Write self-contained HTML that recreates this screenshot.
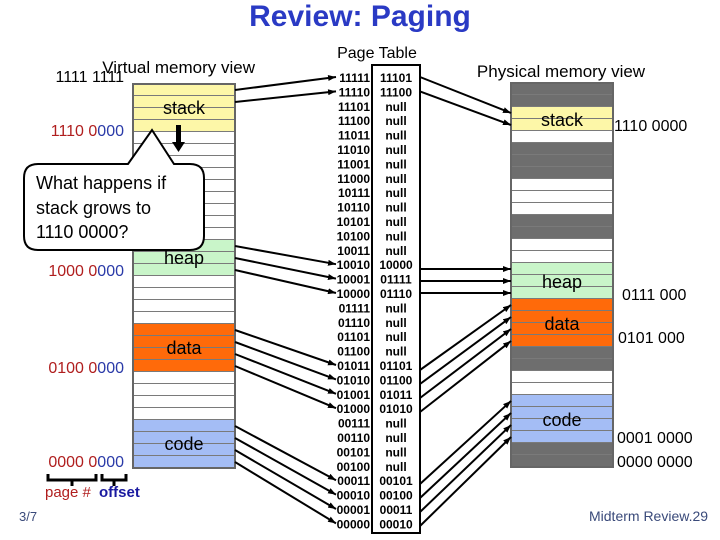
<!DOCTYPE html>
<html><head><meta charset="utf-8"><style>
html,body{margin:0;padding:0;background:#fff;}
svg{display:block;}
text{font-family:"Liberation Sans",Arial,sans-serif;}
</style></head><body>
<svg width="720" height="540" viewBox="0 0 720 540" xmlns="http://www.w3.org/2000/svg">
<defs>
<marker id="ah" markerWidth="8" markerHeight="6" refX="8" refY="3" orient="auto" markerUnits="userSpaceOnUse"><path d="M0,0 L8,3 L0,6 z" fill="#000"/></marker>
<pattern id="rows" x="0" y="84" width="10" height="12" patternUnits="userSpaceOnUse"><rect x="0" y="11" width="10" height="2" fill="#7a7a7a"/></pattern>
<pattern id="rows2" x="0" y="83" width="10" height="12" patternUnits="userSpaceOnUse"><rect x="0" y="11" width="10" height="2" fill="#7a7a7a"/></pattern>
</defs>

<text x="360" y="26" text-anchor="middle" font-size="30" font-weight="bold" fill="#2a3ac4">Review: Paging</text>

<!-- Virtual memory -->
<text x="255" y="73" text-anchor="end" font-size="17" fill="#000">Virtual memory view</text>
<text x="124" y="82" text-anchor="end" font-size="16" fill="#000">1111 1111</text>
<rect x="133" y="84" width="102" height="384" fill="#fff"/>
<rect x="133" y="84" width="102" height="48" fill="#fdf7a8"/>
<rect x="133" y="240" width="102" height="36" fill="#c9f5c9"/>
<rect x="133" y="324" width="102" height="48" fill="#ff6a0a"/>
<rect x="133" y="420" width="102" height="48" fill="#a4bdf5"/>
<rect x="133" y="84" width="102" height="384" fill="url(#rows)"/>
<rect x="133" y="84" width="102" height="384" fill="none" stroke="#666" stroke-width="2"/>
<text x="184" y="114" text-anchor="middle" font-size="18">stack</text>
<text x="184" y="264" text-anchor="middle" font-size="18">heap</text>
<text x="184" y="354" text-anchor="middle" font-size="18">data</text>
<text x="184" y="450" text-anchor="middle" font-size="18">code</text>
<rect x="176" y="125" width="5" height="18" fill="#000"/>
<path d="M172,142 L185,142 L178.5,152 z" fill="#000"/>

<g font-size="16">
<text x="124" y="136" text-anchor="end"><tspan fill="#b01e1e">1110 0</tspan><tspan fill="#2a3aa8">000</tspan></text>
<text x="124" y="276" text-anchor="end"><tspan fill="#b01e1e">1000 0</tspan><tspan fill="#2a3aa8">000</tspan></text>
<text x="124" y="373" text-anchor="end"><tspan fill="#b01e1e">0100 0</tspan><tspan fill="#2a3aa8">000</tspan></text>
<text x="124" y="467" text-anchor="end"><tspan fill="#b01e1e">0000 0</tspan><tspan fill="#2a3aa8">000</tspan></text>
</g>
<path d="M48,474 L48,480 L96,480 L96,474 M72,480 L72,486" fill="none" stroke="#000" stroke-width="3"/>
<path d="M102,474 L102,480 L126,480 L126,474 M114,480 L114,486" fill="none" stroke="#000" stroke-width="3"/>
<text x="45" y="497" font-size="15" fill="#b01e1e">page #</text>
<text x="99" y="497" font-size="15" font-weight="bold" fill="#1a1aa0">offset</text>
<text x="19" y="521" font-size="13" fill="#3a4a7a">3/7</text>

<!-- callout -->
<path d="M38,164 L128,164 L152,130 L174,164 L190,164 Q204,164 204,178 L204,236 Q204,250 190,250 L38,250 Q24,250 24,236 L24,178 Q24,164 38,164 z" fill="#fff" stroke="#000" stroke-width="2"/>
<text x="36" y="189" font-size="18">What happens if</text>
<text x="36" y="214" font-size="18">stack grows to</text>
<text x="36" y="238" font-size="18">1110 0000?</text>

<!-- Page table -->
<text x="377" y="58" text-anchor="middle" font-size="16">Page Table</text>
<rect x="372" y="65" width="48" height="468" fill="#fff" stroke="#000" stroke-width="2"/>
<g font-size="12" font-weight="bold" fill="#000">
<g text-anchor="end">
<text x="370" y="82">11111</text><text x="370" y="96.4">11110</text><text x="370" y="110.8">11101</text><text x="370" y="125.2">11100</text>
<text x="370" y="139.6">11011</text><text x="370" y="154">11010</text><text x="370" y="168.4">11001</text><text x="370" y="182.8">11000</text>
<text x="370" y="197.2">10111</text><text x="370" y="211.6">10110</text><text x="370" y="226">10101</text><text x="370" y="240.4">10100</text>
<text x="370" y="254.8">10011</text><text x="370" y="269.2">10010</text><text x="370" y="283.6">10001</text><text x="370" y="298">10000</text>
<text x="370" y="312.4">01111</text><text x="370" y="326.8">01110</text><text x="370" y="341.2">01101</text><text x="370" y="355.6">01100</text>
<text x="370" y="370">01011</text><text x="370" y="384.4">01010</text><text x="370" y="398.8">01001</text><text x="370" y="413.2">01000</text>
<text x="370" y="427.6">00111</text><text x="370" y="442">00110</text><text x="370" y="456.4">00101</text><text x="370" y="470.8">00100</text>
<text x="370" y="485.2">00011</text><text x="370" y="499.6">00010</text><text x="370" y="514">00001</text><text x="370" y="528.4">00000</text>
</g>
<g text-anchor="middle">
<text x="396" y="82">11101</text><text x="396" y="96.4">11100</text><text x="396" y="110.8">null</text><text x="396" y="125.2">null</text>
<text x="396" y="139.6">null</text><text x="396" y="154">null</text><text x="396" y="168.4">null</text><text x="396" y="182.8">null</text>
<text x="396" y="197.2">null</text><text x="396" y="211.6">null</text><text x="396" y="226">null</text><text x="396" y="240.4">null</text>
<text x="396" y="254.8">null</text><text x="396" y="269.2">10000</text><text x="396" y="283.6">01111</text><text x="396" y="298">01110</text>
<text x="396" y="312.4">null</text><text x="396" y="326.8">null</text><text x="396" y="341.2">null</text><text x="396" y="355.6">null</text>
<text x="396" y="370">01101</text><text x="396" y="384.4">01100</text><text x="396" y="398.8">01011</text><text x="396" y="413.2">01010</text>
<text x="396" y="427.6">null</text><text x="396" y="442">null</text><text x="396" y="456.4">null</text><text x="396" y="470.8">null</text>
<text x="396" y="485.2">00101</text><text x="396" y="499.6">00100</text><text x="396" y="514">00011</text><text x="396" y="528.4">00010</text>
</g>
</g>

<!-- Physical memory -->
<text x="561" y="77" text-anchor="middle" font-size="17">Physical memory view</text>
<rect x="511" y="83" width="102" height="384" fill="#fff"/>
<g fill="#6e6e6e">
<rect x="511" y="83" width="102" height="24"/>
<rect x="511" y="143" width="102" height="36"/>
<rect x="511" y="215" width="102" height="24"/>
<rect x="511" y="347" width="102" height="24"/>
<rect x="511" y="443" width="102" height="24"/>
</g>
<rect x="511" y="107" width="102" height="24" fill="#fdf7a8"/>
<rect x="511" y="263" width="102" height="36" fill="#c9f5c9"/>
<rect x="511" y="299" width="102" height="48" fill="#ff6a0a"/>
<rect x="511" y="395" width="102" height="48" fill="#a4bdf5"/>
<rect x="511" y="83" width="102" height="384" fill="url(#rows2)"/>
<rect x="511" y="83" width="102" height="384" fill="none" stroke="#666" stroke-width="2"/>
<text x="562" y="126" text-anchor="middle" font-size="18">stack</text>
<text x="562" y="288" text-anchor="middle" font-size="18">heap</text>
<text x="562" y="330" text-anchor="middle" font-size="18">data</text>
<text x="562" y="426" text-anchor="middle" font-size="18">code</text>
<g font-size="16">
<text x="614" y="131">1110 0000</text>
<text x="622" y="300">0111 000</text>
<text x="618" y="343">0101 000</text>
<text x="617" y="443">0001 0000</text>
<text x="617" y="467">0000 0000</text>
</g>
<text x="589" y="521" font-size="14" fill="#3a4a7a">Midterm Review.29</text>

<!-- arrows virtual -> PT -->
<g stroke="#000" stroke-width="2" marker-end="url(#ah)" fill="none">
<line x1="235" y1="90" x2="336" y2="77"/>
<line x1="235" y1="102" x2="336" y2="91.4"/>
<line x1="235" y1="246" x2="336" y2="264.2"/>
<line x1="235" y1="258" x2="336" y2="278.6"/>
<line x1="235" y1="270" x2="336" y2="293"/>
<line x1="235" y1="330" x2="336" y2="365"/>
<line x1="235" y1="342" x2="336" y2="379.4"/>
<line x1="235" y1="354" x2="336" y2="393.8"/>
<line x1="235" y1="366" x2="336" y2="408.2"/>
<line x1="235" y1="426" x2="336" y2="480.2"/>
<line x1="235" y1="438" x2="336" y2="494.6"/>
<line x1="235" y1="450" x2="336" y2="509"/>
<line x1="235" y1="462" x2="336" y2="523.4"/>
<!-- PT -> physical -->
<line x1="420" y1="77" x2="511" y2="113"/>
<line x1="420" y1="91.4" x2="511" y2="125"/>
<line x1="420" y1="269" x2="511" y2="269"/>
<line x1="420" y1="281" x2="511" y2="281"/>
<line x1="420" y1="293" x2="511" y2="293"/>
<line x1="420" y1="370" x2="511" y2="305"/>
<line x1="420" y1="384" x2="511" y2="317"/>
<line x1="420" y1="398" x2="511" y2="329"/>
<line x1="420" y1="412" x2="511" y2="341"/>
<line x1="420" y1="484" x2="511" y2="401"/>
<line x1="420" y1="498" x2="511" y2="413"/>
<line x1="420" y1="512" x2="511" y2="425"/>
<line x1="420" y1="526" x2="511" y2="437"/>
</g>
</svg>
</body></html>
